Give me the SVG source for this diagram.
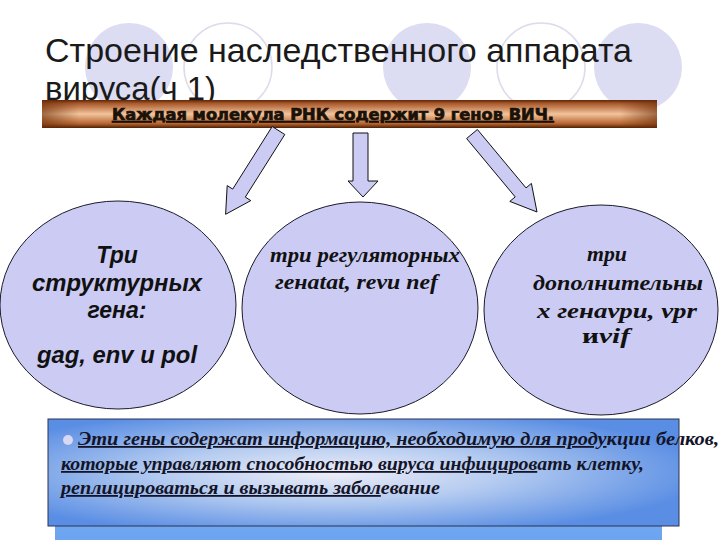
<svg xmlns="http://www.w3.org/2000/svg" width="720" height="540" viewBox="0 0 720 540">
<defs>
<linearGradient id="barGrad" x1="0" y1="0" x2="0" y2="1">
<stop offset="0" stop-color="#5a2606"/>
<stop offset="0.12" stop-color="#a9582a"/>
<stop offset="0.5" stop-color="#f2c49c"/>
<stop offset="0.85" stop-color="#b5622e"/>
<stop offset="1" stop-color="#4e2004"/>
</linearGradient>
<linearGradient id="barEdge" x1="0" y1="0" x2="1" y2="0">
<stop offset="0" stop-color="#6a2c08" stop-opacity="0.6"/>
<stop offset="0.06" stop-color="#6a2c08" stop-opacity="0"/>
<stop offset="0.94" stop-color="#6a2c08" stop-opacity="0"/>
<stop offset="1" stop-color="#6a2c08" stop-opacity="0.6"/>
</linearGradient>
<radialGradient id="boxGrad" cx="0.45" cy="0.5" r="0.6" fx="0.45" fy="0.5">
<stop offset="0" stop-color="#eeedf7"/>
<stop offset="0.45" stop-color="#b4cbf0"/>
<stop offset="1" stop-color="#5a8ee4"/>
</radialGradient>
<linearGradient id="backGrad" x1="0" y1="0" x2="0" y2="1">
<stop offset="0" stop-color="#8fb8f0"/>
<stop offset="1" stop-color="#6aa3f0"/>
</linearGradient>
<style>
.bgf{fill:#dcdcf2;}
.bgo{fill:none;stroke:#dcdcec;stroke-width:1.5;}
.node{fill:#cbcbf4;stroke:#1a1a2a;stroke-width:1;}
.arrow{fill:#cbcbf4;stroke:#111;stroke-width:1;stroke-linejoin:miter;}
.sans{font-family:"Liberation Sans",Arial,sans-serif;}
.ser{font-family:"Liberation Serif","Times New Roman",serif;}
.t1{font-size:23px;font-weight:bold;font-style:italic;fill:#111;text-anchor:middle;}
.t2{font-size:22px;font-weight:bold;font-style:italic;fill:#111;}
.t3{font-size:18px;font-style:italic;font-weight:bold;fill:#141428;}
</style>
</defs>
<rect x="0" y="0" width="720" height="540" fill="#ffffff"/>
<g id="background">
<circle class="bgf" cx="129" cy="67" r="44"/>
<circle class="bgo" cx="228" cy="67" r="44"/>
<circle class="bgf" cx="427" cy="67" r="44"/>
<circle class="bgo" cx="541" cy="67" r="44"/>
<circle class="bgf" cx="638" cy="67" r="44"/>
</g>
<g id="title">
<text class="sans" x="45" y="62" font-size="33" fill="#1a1a1a" textLength="587" lengthAdjust="spacingAndGlyphs">Строение наследственного аппарата</text>
<text class="sans" x="45" y="100" font-size="33" fill="#1a1a1a" textLength="171" lengthAdjust="spacingAndGlyphs">вируса(ч 1)</text>
</g>
<g id="header">
<rect x="42" y="100" width="615" height="28" fill="url(#barGrad)"/>
<rect x="42" y="100" width="615" height="28" fill="url(#barEdge)"/>
<text x="112" y="120" font-family="'DejaVu Sans',Arial,sans-serif" font-size="15" font-weight="bold" fill="#1a1208" stroke="#1a1208" stroke-width="0.7" text-decoration="underline" textLength="442" lengthAdjust="spacingAndGlyphs">Каждая молекула РНК содержит 9 генов ВИЧ.</text>
</g>
<g id="connectors">
<polygon class="arrow" points="272.2,126.5 284.8,134.5 245.3,197.1 250.8,200.6 225.6,214.3 227.2,185.6 232.7,189.1"/>
<polygon class="arrow" points="353,133 368,133 368,181 378,181 363,197 348,181 353,181"/>
<polygon class="arrow" points="477.4,129.5 526,187.9 531.4,183.4 537,212 509.8,201.4 515.2,196.9 466.6,138.5"/>
</g>
<g id="node-structural">
<ellipse class="node" cx="118" cy="305" rx="118" ry="104"/>
<text class="sans t1" x="117" y="263">Три</text>
<text class="sans t1" x="117" y="291" textLength="170" lengthAdjust="spacingAndGlyphs">структурных</text>
<text class="sans t1" x="117" y="318">гена:</text>
<text class="sans t1" x="117" y="363" textLength="160" lengthAdjust="spacingAndGlyphs">gag, env u pol</text>
</g>
<g id="node-regulatory">
<ellipse class="node" cx="360" cy="308" rx="118" ry="106"/>
<text class="ser t2" x="270" y="262" textLength="190" lengthAdjust="spacingAndGlyphs">три регуляторных</text>
<text class="ser t2" x="275" y="289" textLength="163" lengthAdjust="spacingAndGlyphs">генаtat, revи nef</text>
</g>
<g id="node-additional">
<ellipse class="node" cx="601" cy="310" rx="117" ry="105"/>
<text class="ser t2" x="587" y="261" textLength="40" lengthAdjust="spacingAndGlyphs">три</text>
<text class="ser t2" x="533" y="290" textLength="170" lengthAdjust="spacingAndGlyphs">дополнительны</text>
<text class="ser t2" x="537" y="318" textLength="160" lengthAdjust="spacingAndGlyphs">х генаvpu, vpr</text>
<text class="ser t2" x="582" y="343" textLength="48" lengthAdjust="spacingAndGlyphs"><tspan font-style="normal">и</tspan>vif</text>
</g>
<g id="info-box">
<rect x="55" y="440" width="607" height="105" fill="url(#backGrad)"/>
<rect x="48" y="419" width="631" height="107" fill="url(#boxGrad)" stroke="#2a3350" stroke-width="1"/>
<circle cx="68" cy="440" r="5" fill="#d8d8f4"/>
<text class="ser t3" x="78" y="445" textLength="641" lengthAdjust="spacingAndGlyphs"><tspan text-decoration="underline">Эти гены содержат информацию, необходимую для проду</tspan>кции белков,</text>
<text class="ser t3" x="61" y="470" textLength="583" lengthAdjust="spacingAndGlyphs"><tspan text-decoration="underline">которые управляют способностью вируса инфициров</tspan>ать клетку,</text>
<text class="ser t3" x="61" y="494" textLength="379" lengthAdjust="spacingAndGlyphs"><tspan text-decoration="underline">реплицироваться и вызывать забол</tspan>евание</text>
</g>
</svg>
